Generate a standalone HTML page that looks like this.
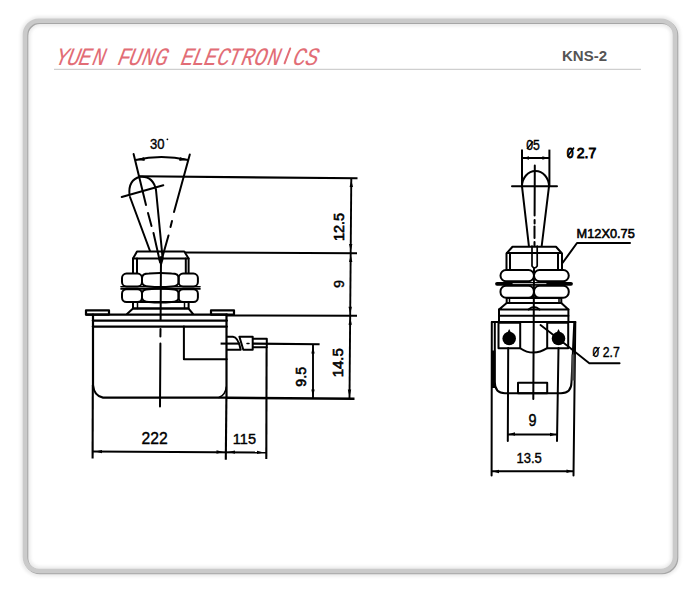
<!DOCTYPE html>
<html><head><meta charset="utf-8">
<style>
html,body{margin:0;padding:0;background:#fff;width:700px;height:600px;overflow:hidden}
svg{position:absolute;left:0;top:0}
.t{font-family:"Liberation Sans",sans-serif}
</style></head>
<body>
<svg width="700" height="600" viewBox="0 0 700 600">
<defs>
<filter id="bl" x="-5%" y="-5%" width="110%" height="110%"><feGaussianBlur stdDeviation="0.55"/></filter>
<filter id="bl2" x="-5%" y="-5%" width="110%" height="110%"><feGaussianBlur stdDeviation="1.6"/></filter>
</defs>
<!-- frame -->
<rect x="25.5" y="21.2" width="650" height="550.3" rx="14" fill="none" stroke="#ebebeb" stroke-width="10" filter="url(#bl2)"/>
<g filter="url(#bl)">
<rect x="26" y="21.7" width="650" height="550.3" rx="14" fill="none" stroke="#a6a6a6" stroke-width="4.6"/>
<rect x="25" y="20.7" width="650" height="550.3" rx="14" fill="none" stroke="#cacaca" stroke-width="4.6"/>
</g>
<!-- header -->
<g font-family="Liberation Mono" font-size="25" font-style="italic" fill="#e26d76"><g transform="translate(54.4,64.8) skewX(-12) scale(0.85,1)"><text x="0" y="0">Y</text></g><g transform="translate(66.3,64.8) skewX(-12) scale(0.85,1)"><text x="0" y="0">U</text></g><g transform="translate(77.8,64.8) skewX(-12) scale(0.85,1)"><text x="0" y="0">E</text></g><g transform="translate(91.5,64.8) skewX(-12) scale(0.85,1)"><text x="0" y="0">N</text></g><g transform="translate(116.8,64.8) skewX(-12) scale(0.85,1)"><text x="0" y="0">F</text></g><g transform="translate(128.1,64.8) skewX(-12) scale(0.85,1)"><text x="0" y="0">U</text></g><g transform="translate(140.9,64.8) skewX(-12) scale(0.85,1)"><text x="0" y="0">N</text></g><g transform="translate(153.9,64.8) skewX(-12) scale(0.85,1)"><text x="0" y="0">G</text></g><g transform="translate(179.9,64.8) skewX(-12) scale(0.85,1)"><text x="0" y="0">E</text></g><g transform="translate(191.5,64.8) skewX(-12) scale(0.85,1)"><text x="0" y="0">L</text></g><g transform="translate(203.3,64.8) skewX(-12) scale(0.85,1)"><text x="0" y="0">E</text></g><g transform="translate(216.1,64.8) skewX(-12) scale(0.85,1)"><text x="0" y="0">C</text></g><g transform="translate(227.3,64.8) skewX(-12) scale(0.85,1)"><text x="0" y="0">T</text></g><g transform="translate(240.5,64.8) skewX(-12) scale(0.85,1)"><text x="0" y="0">R</text></g><g transform="translate(253.3,64.8) skewX(-12) scale(0.85,1)"><text x="0" y="0">O</text></g><g transform="translate(266.5,64.8) skewX(-12) scale(0.85,1)"><text x="0" y="0">N</text></g><g transform="translate(292.1,64.8) skewX(-12) scale(0.85,1)"><text x="0" y="0">C</text></g><g transform="translate(304.5,64.8) skewX(-12) scale(0.85,1)"><text x="0" y="0">S</text></g></g>
<line x1="284.6" y1="63.3" x2="290.2" y2="48.5" stroke="#e26d76" stroke-width="2" stroke-linecap="round"/>
<text class="t" x="562" y="61.3" font-size="15" font-weight="bold" fill="#555">KNS-2</text>
<line x1="54" y1="69.3" x2="641" y2="69.3" stroke="#c4c4c4" stroke-width="1"/>

<!-- ================= LEFT VIEW ================= -->
<g fill="none" stroke="#000" stroke-width="2" stroke-linecap="round" stroke-linejoin="round">
<!-- angle legs -->
<line x1="133.6" y1="154" x2="146" y2="205"/>
<line x1="148" y1="213" x2="151.5" y2="226"/>
<line x1="153.5" y1="233" x2="160" y2="262"/>
<line x1="189.8" y1="154.5" x2="174" y2="212"/>
<line x1="172" y1="221" x2="170.5" y2="227"/>
<line x1="168.5" y1="235.5" x2="161" y2="262"/>
<path d="M135.7 160 Q161 154 188.2 160" stroke-width="1.8"/>
<path d="M138 159.5 l6 -1.7 l0.3 2.2 Z M186 159.5 l-6 -1.7 l-0.3 2.2 Z" fill="#000" stroke-width="1"/>
<!-- lever -->
<path d="M129.5 195 Q128 180 140 176.8 Q153 175.5 156 190"/>
<line x1="121.7" y1="197" x2="163.3" y2="185.3"/>
<line x1="130" y1="197" x2="150" y2="251"/>
<line x1="156" y1="190" x2="162.5" y2="257"/>
<!-- bushing cap -->
<path d="M133 273 V258.6 L137 251.5 H184.3 L188.6 258.6 V273"/>
<line x1="133" y1="258.6" x2="188.6" y2="258.6"/>
<line x1="137" y1="258.6" x2="137" y2="273"/>
<line x1="185.8" y1="258.6" x2="185.8" y2="273"/>
<!-- nuts -->
<rect x="122" y="273.6" width="20" height="12.8" rx="4.5"/>
<path d="M142 278 Q142 273.6 149 273.6 Q160 272.5 171.6 273.6 Q178.6 273.6 178.6 278 V282 Q178.6 286.4 171.6 286.4 Q160 287.5 149 286.4 Q142 286.4 142 282 Z"/>
<rect x="178.6" y="273.6" width="19.3" height="12.8" rx="4.5"/>
<line x1="121" y1="286.7" x2="200" y2="286.7" stroke-width="1.6"/>
<line x1="121" y1="288.9" x2="200" y2="288.9" stroke-width="1.6"/>
<rect x="122" y="289.2" width="20" height="12.8" rx="4.5"/>
<path d="M142 293.6 Q142 289.2 149 289.2 Q160 288 171.6 289.2 Q178.6 289.2 178.6 293.6 V297.6 Q178.6 302 171.6 302 Q160 303 149 302 Q142 302 142 297.6 Z"/>
<rect x="178.6" y="289.2" width="19.3" height="12.8" rx="4.5"/>
<rect x="133" y="302" width="55.6" height="6.6"/>
<line x1="137.5" y1="302" x2="137.5" y2="308.6" stroke-width="1.5"/>
<line x1="184.5" y1="302" x2="184.5" y2="308.6" stroke-width="1.5"/>
<path d="M127 314 L133 308.6 H188.6 L193 314"/>
<!-- plates -->
<rect x="86" y="310.3" width="23" height="4.3" stroke-width="2.2"/>
<rect x="211" y="310.3" width="23" height="4.3" stroke-width="2.2"/>
<line x1="86" y1="314.6" x2="227" y2="314.6" stroke-width="2.2"/>
<line x1="93" y1="320.6" x2="226.7" y2="320.6" stroke-width="2.4"/>
<line x1="93" y1="326.6" x2="226.7" y2="326.6" stroke-width="2.4"/>
<!-- body -->
<path d="M93 314.6 V385 Q94 396 103 397.6 H226.5 V314.6" stroke-width="2.2"/>
<path d="M219 397.5 Q225.5 395 226.3 387" stroke-width="1.6"/>
<path d="M183.9 326.6 V359.2 H226.7"/>
<!-- terminal -->
<path d="M227 336.8 H233 Q238 337 240.7 349.8 H227"/>
<path d="M239.4 336.8 H252.7 V349.8 H243.3 Q241 342 239.4 336.8 Z"/>
<line x1="247" y1="343.4" x2="249" y2="343.4" stroke-width="1.5"/>
<path d="M253.1 338.7 H266.8 V347.3 H253.1"/>
<!-- center line -->
<line x1="161" y1="257" x2="160.6" y2="320"/>
<line x1="160.5" y1="329" x2="160.4" y2="336.5"/>
<line x1="160.4" y1="343.5" x2="160" y2="406.5"/>
</g>
<path d="M158 257.5 L164 257.5 L161 268 Z" fill="#000"/>
<g fill="none" stroke="#000" stroke-width="2.1">
<!-- extension lines -->
<line x1="139" y1="176.3" x2="357.5" y2="178.3"/>
<line x1="185" y1="252.5" x2="357" y2="253.2"/>
<line x1="227" y1="315.5" x2="357" y2="315.8"/>
<line x1="226" y1="397.8" x2="354.5" y2="398.7" stroke-width="2.4"/>
<line x1="220.6" y1="343.6" x2="240" y2="343.6"/>
<line x1="253" y1="343.6" x2="319.6" y2="344.2"/>
<line x1="351.3" y1="178" x2="349.5" y2="398.5" stroke-width="1.9"/>
<line x1="313" y1="344.4" x2="313" y2="398.5" stroke-width="1.9"/>
<line x1="92.8" y1="385" x2="92.6" y2="458.4"/>
<line x1="226.4" y1="397.5" x2="225.8" y2="459.7"/>
<line x1="266.6" y1="347" x2="266.3" y2="459"/>
<line x1="92.6" y1="451.5" x2="266.3" y2="452.5"/>
</g>
<!-- arrows -->
<g fill="#000">
<path d="M351.3 180.0 L349.6 187.0 L353.0 187.0 Z"/>
<path d="M350.7 251.0 L349.0 244.0 L352.4 244.0 Z"/>
<path d="M350.7 255.0 L349.0 262.0 L352.4 262.0 Z"/>
<path d="M350.2 313.7 L348.5 306.7 L351.9 306.7 Z"/>
<path d="M350.2 317.7 L348.5 324.7 L351.9 324.7 Z"/>
<path d="M349.5 396.5 L347.8 389.5 L351.2 389.5 Z"/>
<path d="M313.0 346.5 L311.3 353.5 L314.7 353.5 Z"/>
<path d="M313.0 396.5 L311.3 389.5 L314.7 389.5 Z"/>
<path d="M95.0 451.6 L102.0 449.9 L102.0 453.3 Z"/>
<path d="M223.5 452.0 L216.5 450.3 L216.5 453.7 Z"/>
<path d="M228.0 452.1 L235.0 450.4 L235.0 453.8 Z"/>
<path d="M264.0 452.4 L257.0 450.7 L257.0 454.1 Z"/>
</g>
<g class="t" fill="#000" stroke="#000" stroke-width="0.4">
<text transform="translate(150,149.1) scale(0.9,1)" font-size="14.5">30</text>
<circle cx="167.4" cy="139.3" r="0.9" stroke="none"/>
<text transform="translate(344.4,241) rotate(-90) scale(1.02,1)" font-size="14.2" stroke-width="0.6">12.5</text>
<text transform="translate(344.4,288) rotate(-90) scale(1.02,1)" font-size="14.2" stroke-width="0.4">9</text>
<text transform="translate(342.8,377.3) rotate(-90) scale(1.05,1)" font-size="14.2" stroke-width="0.6">14.5</text>
<text transform="translate(306.3,386.7) rotate(-90) scale(1.0,1)" font-size="14.2" stroke-width="0.6">9.5</text>
<text transform="translate(141.5,443.8) scale(0.95,1)" font-size="16.5">222</text>
<text transform="translate(232.8,444.2) scale(0.97,1)" font-size="15">115</text>
</g>

<!-- ================= RIGHT VIEW ================= -->
<g stroke="#000" stroke-width="1.3" fill="none">
<line x1="527" y1="149" x2="533" y2="141.5"/>
<line x1="567.5" y1="156.5" x2="574" y2="147.5" stroke-width="1.6"/>
<line x1="593" y1="355.6" x2="599.5" y2="347.2"/>
</g>
<g fill="none" stroke="#000" stroke-width="2" stroke-linecap="round" stroke-linejoin="round">
<path d="M522 186.3 A13.5 15.3 0 0 1 549 186.3"/>
<line x1="512" y1="186.3" x2="557" y2="186.3"/>
<line x1="522" y1="186.3" x2="528.9" y2="246"/>
<line x1="549" y1="186.3" x2="541.7" y2="246"/>
<path d="M532 246 V266 Q534.5 270 537.2 266 V246" stroke-width="1.7"/>
<!-- cap -->
<path d="M506.5 269 V253.5 L512.5 246.75 H556 L562 253.5 V269"/>
<line x1="510" y1="253" x2="510" y2="269"/>
<line x1="558" y1="253" x2="558" y2="269"/>
<line x1="507" y1="253" x2="561" y2="253"/>
<!-- nuts -->
<rect x="500.5" y="270" width="33.5" height="11.25" rx="5.5"/>
<rect x="534" y="270" width="34.75" height="11.25" rx="5.5"/>
<line x1="497" y1="283.8" x2="571" y2="283.8" stroke-width="3.8"/>
<line x1="513" y1="283.6" x2="546" y2="283.6" stroke="#fff" stroke-width="0.8"/>
<rect x="500.5" y="285.75" width="33.5" height="12" rx="5.5"/>
<rect x="534" y="285.75" width="34.75" height="12" rx="5.5"/>
<rect x="506.7" y="298" width="54.6" height="5"/>
<path d="M506.7 303 L499 309.5 H568.4 L561.3 303"/>
<line x1="499" y1="309.5" x2="499" y2="321"/>
<line x1="568.4" y1="309.5" x2="568.4" y2="321"/>
<line x1="509.5" y1="298" x2="509.5" y2="303" stroke-width="1.5"/>
<line x1="559" y1="298" x2="559" y2="303" stroke-width="1.5"/>
<line x1="499" y1="315.8" x2="568.4" y2="315.8"/>
<path d="M528.6 309.5 Q534 304.5 539.5 309.5"/>
<!-- body -->
<line x1="492" y1="322" x2="575.3" y2="322"/>
<line x1="491.8" y1="322" x2="491.6" y2="475.4"/>
<line x1="575.3" y1="322" x2="573.5" y2="475.4"/>
<path d="M494.8 322 V382 Q494.8 393.2 505 393.2 H561 Q571.5 393.2 571.5 382 L574.3 322"/>
<rect x="498.5" y="322.7" width="21.7" height="25.5"/>
<rect x="547.2" y="322.7" width="21" height="25.5"/>
<path d="M520.2 348.2 Q533 357 547.2 348.2"/>
<rect x="518" y="382.7" width="29.2" height="10.5"/>
<line x1="534.8" y1="165.5" x2="534.6" y2="215.5"/>
<line x1="534.6" y1="220" x2="534.6" y2="223.5"/>
<line x1="534.5" y1="226.5" x2="534.5" y2="238"/>
<line x1="534.5" y1="242" x2="534.5" y2="246"/>
<line x1="534" y1="268" x2="533.3" y2="399"/>
<line x1="508.2" y1="348" x2="507.8" y2="441"/>
<line x1="558.5" y1="348" x2="557" y2="441"/>
<!-- leaders -->
<path d="M562.5 263 L577 243 H630" stroke-width="2"/>
<path d="M540.5 325 L566.7 345.2 L589.3 363.2 H619.6" stroke-width="1.9"/>
</g>
<g fill="#000">
<circle cx="509.2" cy="338.5" r="6.8"/>
<circle cx="558.5" cy="338.5" r="6.8"/>
<path d="M509.2 329 l-2 4 l4 0 Z"/>
<path d="M558.5 329 l-2 4 l4 0 Z"/>
<rect x="491" y="350.5" width="4.3" height="37.5"/>
<rect x="571.5" y="354.5" width="3" height="26" fill="#4a4a4a"/>
</g>
<g fill="none" stroke="#000" stroke-width="2">
<line x1="522" y1="149.6" x2="522" y2="186"/>
<line x1="549.4" y1="149.6" x2="549.4" y2="187"/>
<line x1="522" y1="158" x2="549.4" y2="158"/>
<line x1="507.5" y1="434.5" x2="557" y2="434.5"/>
<line x1="491.6" y1="471.3" x2="573.5" y2="471.3"/>
</g>
<g fill="#000">
<path d="M523 158 l6 -1.8 l0 3.6 Z"/>
<path d="M548.4 158 l-6 -1.8 l0 3.6 Z"/>
<path d="M509 434 l6 -1.8 l0 3.6 Z"/>
<path d="M556 434.5 l-6 -1.8 l0 3.6 Z"/>
<path d="M493 471.5 l6 -1.8 l0 3.6 Z"/>
<path d="M572.5 471.3 l-6 -1.8 l0 3.6 Z"/>
</g>
<g class="t" fill="#000" stroke="#000" stroke-width="0.4">
<text transform="translate(526.3,150.3) scale(0.85,1)" font-size="14.4">05</text>
<text transform="translate(566.8,157.5) scale(0.8,1)" font-size="15.3" stroke-width="0.9">0</text><text transform="translate(576.8,157.5) scale(0.92,1)" font-size="15.3" stroke-width="0.9">2.7</text>
<text transform="translate(576.6,237.8) scale(0.945,1)" font-size="13.5" stroke-width="0.6">M12X0.75</text>
<text transform="translate(592.5,356.6) scale(0.82,1)" font-size="14.4">0</text><text transform="translate(602.8,356.6) scale(0.85,1)" font-size="14.4">2.7</text>
<text transform="translate(528.5,426) scale(0.9,1)" font-size="16">9</text>
<text transform="translate(516.5,463.4) scale(0.9,1)" font-size="14.5">13.5</text>
</g>
</svg>
</body></html>
